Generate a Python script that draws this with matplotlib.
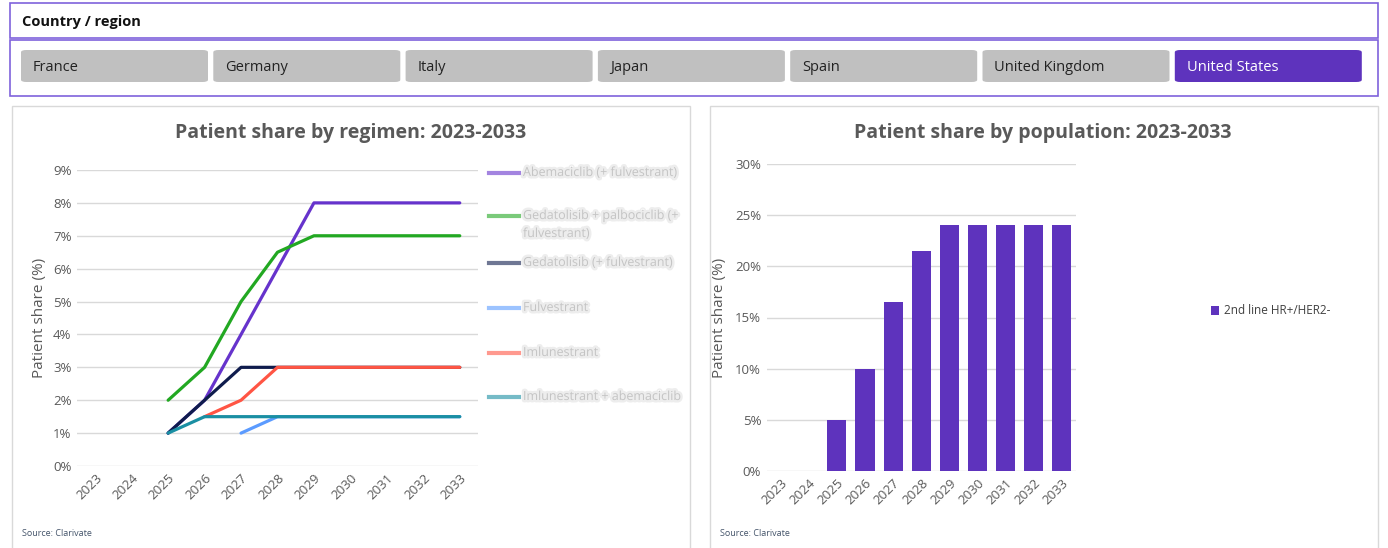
import matplotlib.pyplot as plt
import matplotlib.patheffects as pe
from matplotlib.patches import Rectangle, FancyBboxPatch
from matplotlib.lines import Line2D
from matplotlib.ticker import PercentFormatter

W, H = 1388, 548

years = [str(y) for y in range(2023, 2034)]
countries = ["France", "Germany", "Italy", "Japan", "Spain", "United Kingdom", "United States"]
selected = "United States"

# patient share by regimen (%), None = no value for that year
regimens = [
    "Abemaciclib (+ fulvestrant)",
    "Gedatolisib + palbociclib (+\nfulvestrant)",
    "Gedatolisib (+ fulvestrant)",
    "Fulvestrant",
    "Imlunestrant",
    "Imlunestrant + abemaciclib",
]
abemaciclib = [None, None, 1, 2, 4, 6, 8, 8, 8, 8, 8]
geda_palbo = [None, None, 2, 3, 5, 6.5, 7, 7, 7, 7, 7]
gedatolisib = [None, None, 1, 2, 3, 3, 3, 3, 3, 3, 3]
fulvestrant = [None, None, None, None, 1, 1.5, 1.5, 1.5, 1.5, 1.5, 1.5]
imlunestrant = [None, None, None, 1.5, 2, 3, 3, 3, 3, 3, 3]
imlu_abema = [None, None, 1, 1.5, 1.5, 1.5, 1.5, 1.5, 1.5, 1.5, 1.5]
regimen_colors = ["#6633cc", "#22a822", "#0f1c4d", "#5b9bff", "#ff5544", "#1a8fa3"]

# patient share by population (%)
population = "2nd line HR+/HER2-"
pop_share = [0, 0, 5, 10, 16.5, 21.5, 24, 24, 24, 24, 24]

purple = "#5e33bd"
grey_txt = "#595959"

plt.rcParams['font.family'] = ['Open Sans', 'DejaVu Sans']

fig = plt.figure(figsize=(W / 100, H / 100), dpi=100)


def fx(x):
    return x / W


def fy(y):
    return 1 - y / H


def box(x0, y0, x1, y1, **kw):
    r = Rectangle((fx(x0), fy(y1)), (x1 - x0) / W, (y1 - y0) / H,
                  transform=fig.transFigure, **kw)
    fig.add_artist(r)


# country selector
box(10, 3, 1378, 38, fill=False, edgecolor="#7f62dc", lw=1.2)
box(10, 40, 1378, 96, fill=False, edgecolor="#7f62dc", lw=1.2)
fig.text(fx(22), fy(22), "Country / region", fontsize=10.5, fontweight="bold",
         color="#111111", va="center")
bx0, bw, gap = 21, 187, 5.3
for i, c in enumerate(countries):
    x0 = bx0 + i * (bw + gap)
    on = c == selected
    p = FancyBboxPatch((fx(x0), fy(82)), bw / W, 32 / H,
                       boxstyle="round,pad=0,rounding_size=0.004",
                       transform=fig.transFigure,
                       facecolor=purple if on else "#c0c0c0", edgecolor="none")
    fig.add_artist(p)
    fig.text(fx(x0 + 12), fy(67.5), c, fontsize=10.5,
             color="white" if on else "#222222", va="center")

# panels
box(12, 106, 690, 560, fill=False, edgecolor="#d9d9d9", lw=1)
box(710, 106, 1378, 560, fill=False, edgecolor="#d9d9d9", lw=1)


def style(ax):
    for s in ax.spines.values():
        s.set_visible(False)
    ax.grid(axis="y", color="#d9d9d9", lw=1)
    ax.set_axisbelow(True)
    ax.tick_params(length=0, labelsize=9.5, labelcolor=grey_txt, pad=4)
    ax.yaxis.set_major_formatter(PercentFormatter(decimals=0))
    ax.set_xticks(range(len(years)))
    ax.set_xticklabels(years, rotation=45, ha="right", rotation_mode="anchor")
    ax.set_xlim(-0.5, len(years) - 0.5)


# left chart: lines
ax1 = fig.add_axes([fx(77), fy(466), 401 / W, 296 / H])
series = [abemaciclib, geda_palbo, gedatolisib, fulvestrant, imlunestrant, imlu_abema]
for vals, col in zip(series, regimen_colors):
    xs = [i for i, v in enumerate(vals) if v is not None]
    ys = [vals[i] for i in xs]
    ax1.plot(xs, ys, color=col, lw=2.3, solid_capstyle="round")
ax1.set_ylim(0, 9)
ax1.set_yticks(range(0, 10))
style(ax1)
ax1.set_ylabel("Patient share (%)", fontsize=11, color=grey_txt, labelpad=4)
fig.text(fx(351), fy(133), "Patient share by regimen: 2023-2033", fontsize=14,
         fontweight="bold", color=grey_txt, ha="center", va="center")

# legend (labels are blurred in the source)
blur = [pe.withStroke(linewidth=3.5, foreground="#ededed")]
leg_y = [173, 216, 263, 308, 353, 397]
for lab, col, y in zip(regimens, regimen_colors, leg_y):
    fig.add_artist(Line2D([fx(489), fx(519)], [fy(y), fy(y)], color=col, lw=3,
                          alpha=0.6, transform=fig.transFigure))
    fig.text(fx(523), fy(y - 7), lab, fontsize=9, color="#c4c4c4", va="top",
             linespacing=1.5, path_effects=blur)
fig.text(fx(22), fy(533), "Source: Clarivate", fontsize=6.5, color="#44546a", va="center")

# right chart: bars
ax2 = fig.add_axes([fx(766.7), fy(471), 309 / W, 307 / H])
ax2.bar(range(len(years)), pop_share, width=0.68, color=purple, label=population)
ax2.set_ylim(0, 30)
ax2.set_yticks(range(0, 31, 5))
style(ax2)
ax2.set_ylabel("Patient share (%)", fontsize=11, color=grey_txt, labelpad=6)
ax2.legend(loc="center left", bbox_to_anchor=(fx(1200), fy(311)),
           bbox_transform=fig.transFigure, frameon=False, fontsize=8.5,
           handlelength=0.7, handleheight=0.7, handletextpad=0.4,
           labelcolor="#404040")
fig.text(fx(1043), fy(133), "Patient share by population: 2023-2033", fontsize=14,
         fontweight="bold", color=grey_txt, ha="center", va="center")
fig.text(fx(720), fy(533), "Source: Clarivate", fontsize=6.5, color="#44546a", va="center")

fig.savefig("out.png", dpi=100)
